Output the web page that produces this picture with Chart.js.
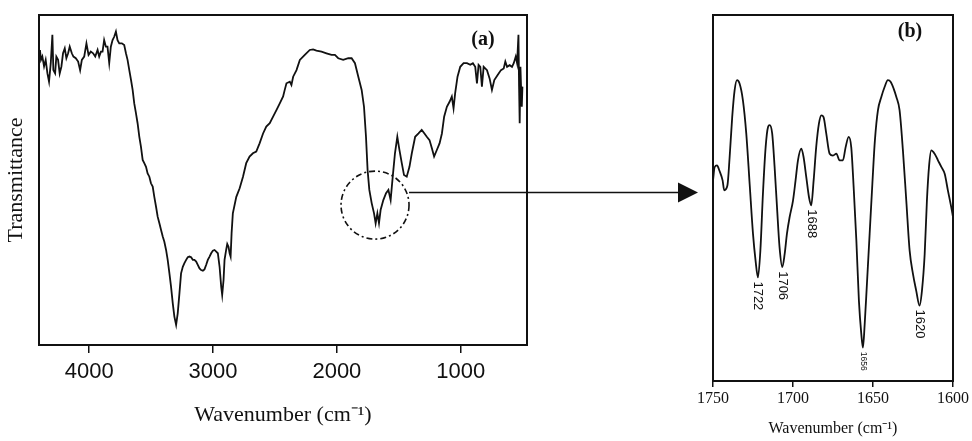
<!DOCTYPE html>
<html><head><meta charset="utf-8">
<script src="https://cdn.jsdelivr.net/npm/chart.js@4.4.1/dist/chart.umd.min.js"></script>
<style>
html,body{margin:0;padding:0;background:#fff;width:972px;height:441px;overflow:hidden}
#wa{position:absolute;left:0;top:0;width:700px;height:441px}
#wb{position:absolute;left:690px;top:0;width:282px;height:441px}
</style></head><body>
<div id="wa"><canvas id="ca"></canvas></div>
<div id="wb"><canvas id="cb"></canvas></div>
<script>
// ---- Panel (a): full spectrum ----
const wavenumberA = [4397,4389,4378,4364,4351,4337,4324,4310,4297,4289,4275,4265,4251,4238,4224,4211,4197,4184,4170,4157,4140,4127,4108,4089,4073,4059,4040,4022,4005,3987,3968,3951,3932,3919,3905,3892,3879,3865,3852,3838,3825,3811,3798,3784,3771,3757,3736,3717,3703,3690,3676,3662,3649,3636,3622,3609,3595,3582,3568,3555,3541,3528,3514,3501,3487,3474,3460,3447,3433,3420,3406,3393,3379,3366,3352,3339,3325,3312,3298,3285,3271,3258,3244,3231,3217,3204,3190,3177,3163,3150,3136,3123,3109,3096,3082,3069,3055,3042,3028,3015,3001,2988,2974,2961,2947,2934,2926,2915,2907,2894,2885,2875,2866,2858,2850,2840,2812,2785,2758,2732,2705,2678,2651,2624,2596,2570,2542,2515,2488,2461,2434,2421,2407,2380,2367,2353,2326,2299,2259,2219,2192,2165,2124,2084,2043,2016,1989,1949,1908,1881,1854,1827,1800,1781,1765,1752,1738,1719,1700,1687,1673,1660,1647,1625,1603,1584,1566,1549,1531,1512,1495,1476,1458,1436,1414,1395,1368,1341,1315,1293,1274,1252,1233,1215,1193,1171,1152,1134,1112,1090,1072,1058,1045,1026,1004,977,950,923,902,883,869,856,842,829,815,788,767,748,729,702,675,653,640,626,605,586,572,556,545,534,529,524,518,513,507,502];
const transmittanceA = [89.4,86.4,87.4,84.4,86.4,82.3,79.8,85.4,94.0,83.3,82.3,87.4,86.4,82.3,84.4,88.4,89.9,86.9,88.4,90.4,88.4,87.4,86.9,85.9,83.3,86.4,87.4,91.4,87.9,88.9,88.4,87.4,89.4,87.4,88.9,88.9,92.4,90.4,90.4,85.4,90.4,92.4,93.4,95.0,92.4,91.4,91.4,90.9,88.4,86.4,83.3,80.3,77.3,73.2,70.2,67.2,63.1,60.1,56.1,55.1,54.0,52.0,51.0,49.0,48.0,44.9,41.9,38.9,36.9,34.9,32.9,31.3,28.8,25.8,21.7,17.7,12.6,8.6,6.1,9.6,15.7,21.7,23.7,24.8,25.8,26.6,26.8,26.6,25.8,25.8,25.3,24.3,23.2,22.7,22.5,22.9,24.3,25.8,26.8,27.8,28.6,28.8,28.3,27.8,23.7,17.7,15.2,19.7,25.8,28.8,30.6,29.8,27.8,26.8,33.9,39.9,44.9,47.5,51.0,55.1,57.1,58.1,58.6,61.1,64.1,66.2,67.2,69.2,71.2,73.2,75.3,77.3,79.3,79.8,78.8,81.3,83.3,86.4,87.9,89.4,89.6,89.2,88.9,88.4,87.9,87.9,86.9,86.4,86.9,86.9,85.4,81.3,77.3,72.2,63.1,53.0,47.0,43.0,39.9,36.9,39.9,36.9,40.9,43.9,46.0,47.0,43.9,51.0,58.1,63.1,59.1,55.1,51.5,51.0,54.0,58.1,63.1,64.1,65.2,64.1,63.1,62.1,59.6,57.1,59.1,61.1,64.1,69.2,72.2,73.7,75.3,71.7,76.3,81.3,84.3,85.4,85.4,84.9,85.4,84.3,79.3,84.9,84.3,78.3,84.3,83.3,80.8,77.3,80.3,81.8,83.3,83.8,85.9,84.3,84.8,84.3,85.4,87.4,85.4,94.0,78.3,67.2,84.3,78.3,72.2,78.3];
const ticksA = [4000, 3000, 2000, 1000];
const rangeA = [465, 4405];
const zoomCircle = {x: 1692, y: 42.4};
const arrowLevel = 46.2;

// ---- Panel (b): 1750-1600 region ----
const wavenumberB = [1750,1749,1747.5,1746,1744,1743,1741,1739.6,1738,1736.5,1735,1733.4,1731.3,1729.2,1727.1,1725,1723.4,1721.9,1720.4,1718.8,1717.1,1715.6,1714.6,1713,1711.5,1710,1708.4,1706.7,1705.2,1703.8,1702.1,1700,1698.4,1696.9,1694.8,1693.4,1691.7,1690,1688.6,1687.1,1685.5,1683.8,1682.3,1680.9,1679.2,1677.1,1675,1672.9,1670.9,1668.8,1667.1,1665.2,1663.6,1662.1,1660.4,1658.8,1657.3,1656.3,1655.2,1653.8,1652.1,1650.4,1648.8,1646.9,1644.8,1642.7,1640.7,1638.9,1637.1,1635.4,1633.4,1631.3,1629.2,1627.1,1625,1623,1620.9,1619.4,1617.7,1616.3,1615,1613.6,1611.5,1609.4,1607.3,1605.2,1603.2,1601.1,1600];
const transmittanceB = [54.8,58.4,58.9,57.5,54.8,52.1,53.4,61.2,72.1,79.4,82.2,81.3,76.7,67.6,53.9,40.2,32.9,28.3,35.6,51.1,63.9,69.4,69.9,67.6,58.5,47.5,36.5,31.1,34.7,40.2,44.8,49.3,54.8,60.3,63.5,61.2,55.7,50.2,48.0,54.8,63.9,70.3,72.6,72.1,67.6,62.1,61.6,62.1,60.3,60.3,63.9,66.7,63.9,53.0,38.4,21.9,12.8,9.1,15.5,26.5,40.2,53.9,65.8,74.0,77.6,80.4,82.2,81.7,79.9,77.6,74.0,63.0,49.3,35.6,29.2,24.7,20.6,24.7,34.7,49.3,58.5,63.0,62.1,60.3,58.5,56.6,52.1,47.5,44.8];
const ticksB = [1750, 1700, 1650, 1600];
const rangeB = [1600, 1750];
const peakLabels = ['1722', '1706', '1688', '1656', '1620'];
const peakPositions = [1722, 1706, 1688, 1656, 1620];
const peakFontSizes = [13, 13, 13, 8.5, 13];

const INK = '#111';
const SERIF = '"Liberation Serif","Times New Roman",serif';
const SANS = '"Liberation Sans",Arial,sans-serif';

const framePlugin = {
  id: 'frame',
  afterDatasetsDraw(chart) {
    const {ctx, chartArea: a} = chart;
    ctx.save();
    ctx.strokeStyle = INK; ctx.lineWidth = 2;
    ctx.strokeRect(a.left, a.top, a.right - a.left, a.bottom - a.top);
    ctx.restore();
  }
};

const extrasA = {
  id: 'extrasA',
  afterDraw(chart) {
    const {ctx, scales: {x, y}, chartArea: a} = chart;
    const cx = x.getPixelForValue(zoomCircle.x), cy = y.getPixelForValue(zoomCircle.y);
    const r = 34;
    ctx.save();
    ctx.strokeStyle = INK; ctx.fillStyle = INK;
    ctx.lineWidth = 1.6;
    ctx.setLineDash([6, 3, 2, 3]);
    ctx.beginPath(); ctx.arc(cx, cy, r, 0, Math.PI * 2); ctx.stroke();
    ctx.setLineDash([]);
    const ay = y.getPixelForValue(arrowLevel);
    const tip = chart.width - 2;
    ctx.beginPath(); ctx.moveTo(cx + r, ay); ctx.lineTo(tip - 18, ay); ctx.stroke();
    ctx.beginPath(); ctx.moveTo(tip - 20, ay - 10); ctx.lineTo(tip, ay); ctx.lineTo(tip - 20, ay + 10); ctx.closePath(); ctx.fill();
    ctx.font = 'bold 20px ' + SERIF;
    ctx.textAlign = 'center'; ctx.textBaseline = 'middle';
    ctx.fillText('(a)', a.right - 44, a.top + 25);
    ctx.restore();
  }
};

const extrasB = {
  id: 'extrasB',
  afterDraw(chart) {
    const {ctx, scales: {x, y}, chartArea: a} = chart;
    ctx.save();
    ctx.fillStyle = INK;
    peakPositions.forEach((p, i) => {
      let best = -1;
      wavenumberB.forEach((w, j) => {
        if (Math.abs(w - p) <= 3 && (best < 0 || transmittanceB[j] < transmittanceB[best])) best = j;
      });
      const px = x.getPixelForValue(wavenumberB[best]);
      const py = y.getPixelForValue(transmittanceB[best]);
      ctx.save();
      ctx.translate(px, py + 4);
      ctx.rotate(Math.PI / 2);
      ctx.font = peakFontSizes[i] + 'px ' + SANS;
      ctx.textAlign = 'left'; ctx.textBaseline = 'middle';
      ctx.fillText(peakLabels[i], 0, 0);
      ctx.restore();
    });
    ctx.font = 'bold 20px ' + SERIF;
    ctx.textAlign = 'center'; ctx.textBaseline = 'middle';
    ctx.fillText('(b)', a.right - 43, a.top + 17);
    ctx.restore();
  }
};

function pts(xs, ys) { return xs.map((v, i) => ({x: v, y: ys[i]})); }

new Chart(document.getElementById('ca'), {
  type: 'scatter',
  data: {datasets: [{data: pts(wavenumberA, transmittanceA), showLine: true, borderColor: INK, borderWidth: 1.8, pointRadius: 0, tension: 0, fill: false}]},
  options: {
    responsive: true, maintainAspectRatio: false, animation: false, devicePixelRatio: 1,
    layout: {padding: {left: 0, top: 15, right: 173, bottom: 0}},
    plugins: {legend: {display: false}, tooltip: {enabled: false}},
    scales: {
      x: {
        type: 'linear', reverse: true, min: rangeA[0], max: rangeA[1],
        afterBuildTicks: s => { s.ticks = ticksA.map(v => ({value: v})); },
        afterFit: s => { s.height = 96; },
        grid: {display: true, drawOnChartArea: false, drawTicks: true, tickLength: 8, color: INK, lineWidth: 1.5},
        border: {display: false},
        ticks: {padding: 6, color: INK, font: {family: SANS, size: 22}, maxRotation: 0, autoSkip: false, callback: v => String(v)},
        title: {display: true, text: 'Wavenumber (cm⁻¹)', color: INK, font: {family: SERIF, size: 22}, padding: {top: 0, bottom: 13}}
      },
      y: {
        min: 0, max: 100,
        afterFit: s => { s.width = 39; },
        grid: {display: false}, border: {display: false},
        ticks: {display: false},
        title: {display: true, text: 'Transmittance', color: INK, font: {family: SERIF, size: 22}, padding: {top: 3, bottom: 0}}
      }
    }
  },
  plugins: [framePlugin, extrasA]
});

new Chart(document.getElementById('cb'), {
  type: 'scatter',
  data: {datasets: [{data: pts(wavenumberB, transmittanceB), showLine: true, borderColor: INK, borderWidth: 1.8, pointRadius: 0, cubicInterpolationMode: 'monotone', fill: false}]},
  options: {
    responsive: true, maintainAspectRatio: false, animation: false, devicePixelRatio: 1,
    layout: {padding: {left: 23, top: 15, right: 19, bottom: 0}},
    plugins: {legend: {display: false}, tooltip: {enabled: false}},
    scales: {
      x: {
        type: 'linear', reverse: true, min: rangeB[0], max: rangeB[1],
        afterBuildTicks: s => { s.ticks = ticksB.map(v => ({value: v})); },
        afterFit: s => { s.height = 60; },
        grid: {display: true, drawOnChartArea: false, drawTicks: true, tickLength: 6, color: INK, lineWidth: 1.5},
        border: {display: false},
        ticks: {padding: 2, color: INK, font: {family: SERIF, size: 16}, maxRotation: 0, autoSkip: false, callback: v => String(v)},
        title: {display: true, text: 'Wavenumber (cm⁻¹)', color: INK, font: {family: SERIF, size: 16}, padding: {top: 0, bottom: 3}}
      },
      y: {display: false, min: 0, max: 100}
    }
  },
  plugins: [framePlugin, extrasB]
});
</script>
</body></html>
